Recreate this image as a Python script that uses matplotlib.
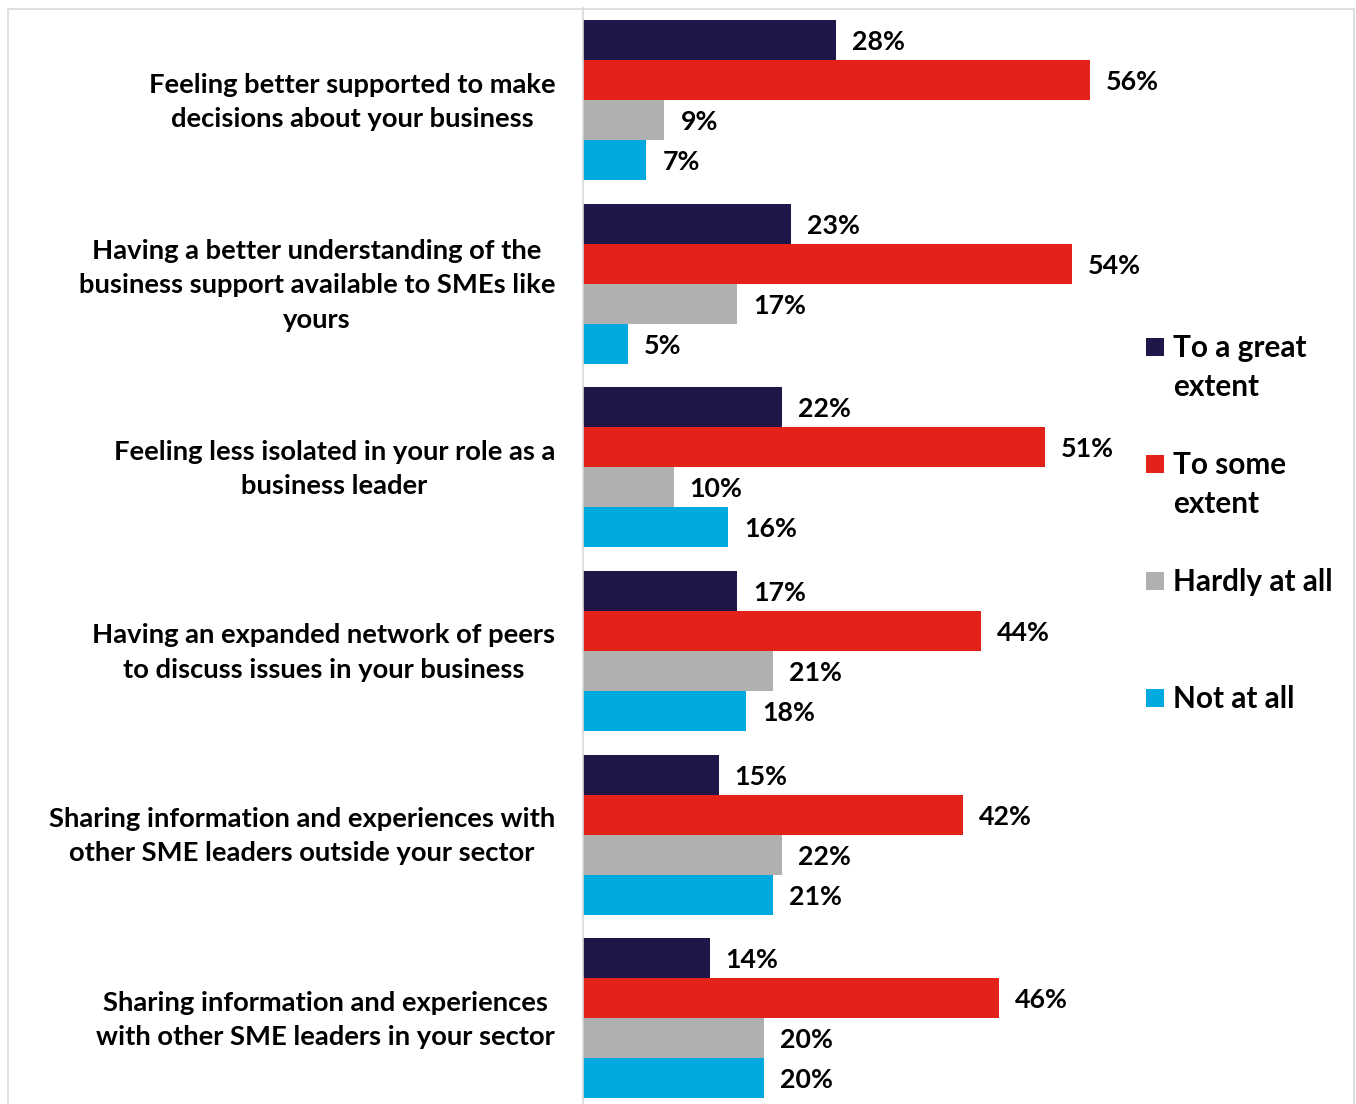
import matplotlib
matplotlib.use("Agg")
import matplotlib.pyplot as plt
from matplotlib.patches import Rectangle
from matplotlib.transforms import ScaledTranslation
import numpy as np

categories = [
    "Feeling better supported to make\ndecisions about your business",
    "Having a better understanding of the\nbusiness support available to SMEs like\nyours",
    "Feeling less isolated in your role as a\nbusiness leader",
    "Having an expanded network of peers\nto discuss issues in your business",
    "Sharing information and experiences with\nother SME leaders outside your sector",
    "Sharing information and experiences\nwith other SME leaders in your sector",
]
series_names = ["To a great\nextent", "To some\nextent", "Hardly at all", "Not at all"]
great = [28, 23, 22, 17, 15, 14]
some = [56, 54, 51, 44, 42, 46]
hardly = [9, 17, 10, 21, 22, 20]
not_at_all = [7, 5, 16, 18, 21, 20]
colors = ["#1F164A", "#E32219", "#B0B0B0", "#00AAE0"]

FONT = ["Lato", "DejaVu Sans"]
plt.rcParams["font.family"] = FONT

W, H = 1356, 1104
fig = plt.figure(figsize=(W / 100, H / 100), dpi=100)

# outer frame
fig.add_artist(Rectangle((8 / W, -0.05), (1354 - 8) / W, 1 - 9 / H + 0.05,
                         transform=fig.transFigure, fill=False,
                         edgecolor="#D9D9D9", lw=1.2))

left_px, top_px, bot_px = 583, 8.2, 1110
px_per_pct = 9.05
width_px = 543
ax = fig.add_axes([left_px / W, 1 - bot_px / H, width_px / W, (bot_px - top_px) / H])
ax.set_xlim(0, width_px / px_per_pct)
ax.set_ylim(5.5, -0.5)

data = [great, some, hardly, not_at_all]
n = len(categories)
y = np.arange(n)
h = 40 / 183.6
for i, (vals, c) in enumerate(zip(data, colors)):
    yy = y + (i - 1.5) * h
    bars = ax.barh(yy, vals, height=h, color=c, edgecolor="none")
    for b, v in zip(bars, vals):
        ax.annotate(f"{v}%", (v, b.get_y() + b.get_height() / 2),
                    xytext=(11.5, -1.5), textcoords="offset points",
                    ha="left", va="center", fontsize=19.3, fontweight="bold",
                    color="black")

ax.set_yticks(y)
ax.set_yticklabels(categories, fontsize=19.7, fontweight="bold",
                   multialignment="center", linespacing=1.52)
ax.tick_params(axis="y", length=0, pad=20)
shift = ScaledTranslation(0, 5.5 / 100, fig.dpi_scale_trans)
for lab in ax.get_yticklabels():
    lab.set_transform(lab.get_transform() + shift)
ax.set_xticks([])
for s in ["top", "right", "bottom"]:
    ax.spines[s].set_visible(False)
ax.spines["left"].set_color("#D9D9D9")
ax.spines["left"].set_linewidth(1.2)
ax.set_facecolor("none")

# legend (manual)
leg_y = [347, 464, 581, 698]
for name, c, ly in zip(series_names, colors, leg_y):
    fig.add_artist(Rectangle(((1146) / W, 1 - (ly + 9) / H), 18 / W, 18 / H,
                             transform=fig.transFigure, color=c, lw=0))
    fig.text(1173 / W, 1 - (ly - 13) / H, name, ha="left", va="top",
             fontsize=21.4, fontweight="bold", linespacing=1.46)

fig.savefig("out.png", dpi=100)
